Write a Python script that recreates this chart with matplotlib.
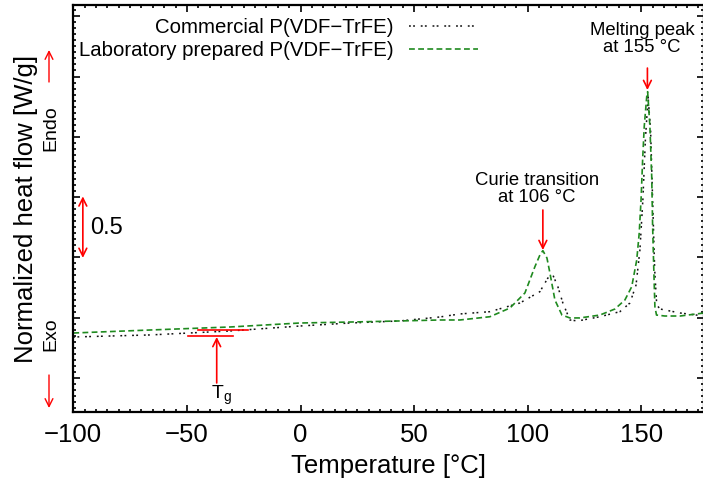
import matplotlib
matplotlib.use('Agg')
import matplotlib.pyplot as plt
from matplotlib.ticker import MultipleLocator, NullFormatter

plt.rcParams['font.family'] = ['Liberation Sans', 'DejaVu Sans']
plt.rcParams['mathtext.fontset'] = 'custom'
plt.rcParams['mathtext.rm'] = 'Liberation Sans'
plt.rcParams['mathtext.it'] = 'Liberation Sans:italic'
plt.rcParams['axes.unicode_minus'] = True

# ---------------- data ----------------
lab_temp = [-100, -66.2, -31.0, -0.3, 21.7, 43.7, 61.3, 70.1, 83.3, 92.1, 98.7,
            103.1, 105.3, 106.6, 108.4, 109.7, 111.9, 115.0, 118.5, 122.9, 131.7,
            138.3, 142.7, 145.7, 147.9, 149.0, 149.8, 150.5, 151.2, 152.3, 152.7,
            153.7, 154.5, 154.9, 155.5, 155.9, 156.6, 160.3, 167.0, 177.5]
lab_flow = [0.373, 0.398, 0.423, 0.456, 0.464, 0.473, 0.481, 0.481, 0.508, 0.580,
            0.705, 0.923, 1.020, 1.056, 0.995, 0.871, 0.647, 0.522, 0.498, 0.498,
            0.522, 0.572, 0.647, 0.757, 0.978, 1.202, 1.476, 1.808, 2.084, 2.333,
            2.374, 2.084, 1.669, 1.255, 0.840, 0.591, 0.522, 0.514, 0.514, 0.539]

com_temp = [-100, -66.2, -31.0, -0.3, 21.7, 43.7, 61.3, 70.1, 83.3, 96.5, 105.3,
            108.8, 111.0, 113.2, 115.4, 118.5, 122.0, 131.7, 140.5, 144.9, 147.6,
            149.3, 150.6, 151.7, 152.9, 154.0, 154.9, 155.8, 156.7, 158.2, 167.0, 177.5]
com_flow = [0.340, 0.357, 0.390, 0.431, 0.456, 0.473, 0.506, 0.531, 0.550, 0.622,
            0.716, 0.829, 0.854, 0.757, 0.622, 0.481, 0.473, 0.508, 0.550, 0.622,
            0.771, 1.061, 1.476, 1.973, 2.330, 2.056, 1.476, 0.896, 0.605, 0.572,
            0.539, 0.514]

series_labels = ['Commercial P(VDF\u2212TrFE)', 'Laboratory prepared P(VDF\u2212TrFE)']
x_ticks = [-100, -50, 0, 50, 100, 150]

# annotations (data coordinates)
curie_text_xy = (104.0, 1.567)
curie_arrow = ((106.6, 1.393), (106.6, 1.061))
melt_text_xy = (150.2, 2.811)
melt_arrow = ((152.6, 2.570), (152.6, 2.388))
tg_line_upper = ([-45.1, -23.1], [0.398, 0.398])
tg_line_lower = ([-49.5, -29.7], [0.351, 0.351])
tg_arrow = ((-36.9, -0.041), (-36.9, 0.340))
tg_text_xy = (-34.8, -0.141)
scale_arrow = ((-95.8, 1.506), (-95.8, 0.996))
scale_text_xy = (-85.5, 1.244)

# ---------------- figure ----------------
W, H = 703, 494
fig = plt.figure(figsize=(W / 100, H / 100), dpi=100)
ax = fig.add_axes([73.3 / W, 1 - 412 / H, (704 - 73.3) / W, 407 / H])

ax.plot(com_temp, com_flow, color='#111111', lw=1.1, linestyle=(0, (1.2, 1.5, 1.2, 3.8)),
        label=series_labels[0])
ax.plot(lab_temp, lab_flow, color='#1f8a1f', lw=1.2, linestyle=(0, (3.5, 2.0)),
        label=series_labels[1])

ax.set_xlim(-100, 177.5)
ax.set_ylim(-0.282, 3.093)
ax.set_xticks(x_ticks)
ax.xaxis.set_minor_locator(MultipleLocator(5))
ax.yaxis.set_major_locator(MultipleLocator(0.5))
ax.yaxis.set_minor_locator(MultipleLocator(0.05))
ax.yaxis.set_major_formatter(NullFormatter())
ax.tick_params(which='both', direction='in', top=True, right=True, width=1.2)
ax.tick_params(which='major', length=5, labelsize=18.5, pad=8)
ax.tick_params(which='minor', length=2.5)
for s in ax.spines.values():
    s.set_linewidth(1.6)

ax.set_xlabel('Temperature [\u00b0C]', fontsize=18.5, labelpad=5)
ax.set_ylabel('Normalized heat flow [W/g]', fontsize=18.5)
ax.yaxis.set_label_coords((38 - 73.3) / 630.7, 0.5)

leg = ax.legend(loc='upper right', bbox_to_anchor=(478 / W, 1 - 18 / H),
                bbox_transform=fig.transFigure, frameon=False, markerfirst=False,
                fontsize=14.7, handlelength=3.4, handletextpad=0.75,
                labelspacing=0.22, borderpad=0, borderaxespad=0)

red = '#ff0000'
arr = dict(arrowstyle='->', color=red, lw=1.2, mutation_scale=14, shrinkA=0, shrinkB=0)

ax.annotate('', xy=curie_arrow[1], xytext=curie_arrow[0], arrowprops=arr)
ax.text(*curie_text_xy, 'Curie transition\nat 106 \u00b0C', ha='center', va='center',
        fontsize=13.3, linespacing=1.05)
ax.annotate('', xy=melt_arrow[1], xytext=melt_arrow[0], arrowprops=arr)
ax.text(*melt_text_xy, 'Melting peak\nat 155 \u00b0C', ha='center', va='center',
        fontsize=13.3, linespacing=1.05)

ax.plot(*tg_line_upper, color=red, lw=1.2)
ax.plot(*tg_line_lower, color=red, lw=1.2)
ax.annotate('', xy=tg_arrow[1], xytext=tg_arrow[0], arrowprops=arr)
ax.text(*tg_text_xy, r'T$_{\mathrm{g}}$', ha='center', va='center', fontsize=14)

ax.annotate('', xy=scale_arrow[1], xytext=scale_arrow[0],
            arrowprops=dict(arr, arrowstyle='<->'))
ax.text(*scale_text_xy, '0.5', ha='center', va='center', fontsize=17)

# Endo / Exo indicators (outside the axes, figure pixels)
def fp(px, py):
    return (px / W, 1 - py / H)

fig.text(*fp(51, 128), 'Endo', rotation=90, ha='center', va='center', fontsize=14)
fig.text(*fp(51, 334), 'Exo', rotation=90, ha='center', va='center', fontsize=14)
ax.annotate('', xy=fp(49, 50), xytext=fp(49, 82), xycoords='figure fraction',
            textcoords='figure fraction', arrowprops=dict(arr, lw=1.0))
ax.annotate('', xy=fp(49, 408), xytext=fp(49, 375), xycoords='figure fraction',
            textcoords='figure fraction', arrowprops=dict(arr, lw=1.0))

fig.savefig('out.png', dpi=100)
